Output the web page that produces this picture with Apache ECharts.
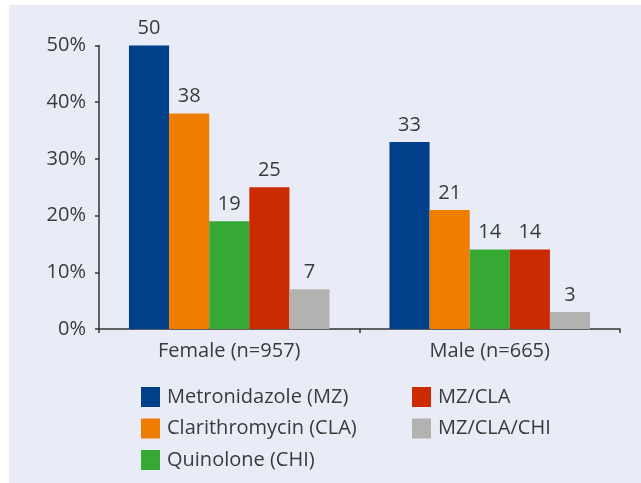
<!DOCTYPE html>
<html>
<head>
<meta charset="utf-8">
<script src="https://cdn.jsdelivr.net/npm/echarts@6/dist/echarts.min.js"></script>
<style>
html,body{margin:0;padding:0;background:#fff;}
#chart{width:641px;height:483px;}
</style>
</head>
<body>
<div id="chart"></div>
<script>
const categories = ['Female (n=957)', 'Male (n=665)'];
const seriesNames = ['Metronidazole (MZ)', 'Clarithromycin (CLA)', 'Quinolone (CHI)', 'MZ/CLA', 'MZ/CLA/CHI'];
const metronidazole = [50, 33];
const clarithromycin = [38, 21];
const quinolone = [19, 14];
const mzCla = [25, 14];
const mzClaChi = [7, 3];
const colors = ['#003f8a', '#f07d00', '#36a935', '#cc2a00', '#b2b3b1'];
const yTicks = [0, 10, 20, 30, 40, 50];

const values = [metronidazole, clarithromycin, quinolone, mzCla, mzClaChi];
const font = '"Open Sans", "Noto Sans", sans-serif';
const txt = '#3a3a3a';
const fw = 400;

const chart = echarts.init(document.getElementById('chart'), null, {renderer: 'canvas'});
chart.setOption({
  backgroundColor: '#ffffff',
  animation: false,
  graphic: [{
    type: 'rect', silent: true, z: -10,
    shape: {x: 9, y: 5, width: 640, height: 480},
    style: {fill: '#e9ecf6'}
  }],
  grid: {left: 99, right: 21, top: 45.5, bottom: 154},
  legend: [
    {
      data: seriesNames.slice(0, 3),
      orient: 'vertical', left: 141, top: 387, padding: 0,
      itemWidth: 19, itemHeight: 20, itemGap: 11.5, icon: 'rect',
      textStyle: {fontSize: 20, fontWeight: fw, color: txt, fontFamily: font, padding: [0, 0, 0, 2]}
    },
    {
      data: seriesNames.slice(3),
      orient: 'vertical', left: 412, top: 387, padding: 0,
      itemWidth: 19, itemHeight: 20, itemGap: 11.5, icon: 'rect',
      textStyle: {fontSize: 20, fontWeight: fw, color: txt, fontFamily: font, padding: [0, 0, 0, 2]}
    }
  ],
  xAxis: {
    type: 'category', data: categories,
    axisLine: {lineStyle: {color: '#333', width: 1.5}},
    axisTick: {show: true, length: 4, lineStyle: {color: '#333', width: 1.5}},
    axisLabel: {fontSize: 20, fontWeight: fw, color: txt, fontFamily: font, margin: 12}
  },
  yAxis: {
    type: 'value', min: yTicks[0], max: yTicks[yTicks.length - 1], interval: 10,
    splitLine: {show: false},
    axisLine: {show: true, lineStyle: {color: '#333', width: 1.5}},
    axisTick: {show: true, length: 4, lineStyle: {color: '#333', width: 1.5}},
    axisLabel: {fontSize: 20, fontWeight: fw, color: txt, fontFamily: font, margin: 13, formatter: '{value}%'}
  },
  series: seriesNames.map((name, i) => ({
    name: name, type: 'bar', data: values[i],
    barGap: '0%', barCategoryGap: '23%',
    itemStyle: {color: colors[i]},
    label: {show: true, position: 'top', distance: 7, fontSize: 20, fontWeight: fw, color: txt, fontFamily: font}
  }))
});
</script>
</body>
</html>
